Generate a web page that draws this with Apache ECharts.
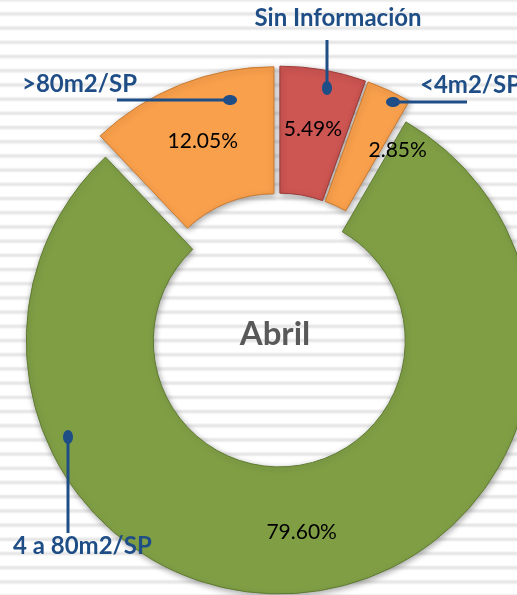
<!DOCTYPE html>
<html lang="es">
<head>
  <meta charset="UTF-8">
  <title>Abril</title>
  <style>
    html, body { margin: 0; padding: 0; background: #fff; }
    #chart {
      width: 517px;
      height: 595px;
      background: repeating-linear-gradient(to bottom,
        #e6e6e6 0px, #f4f4f4 1.2px, #ffffff 2px,
        #ffffff 11px, #f3f3f3 11.8px, #e6e6e6 12.8px, #e6e6e6 14.2px);
      background-position: 0 0.4px;
    }
  </style>
</head>
<body>
  <div id="chart"></div>
  <script src="https://cdn.jsdelivr.net/npm/echarts@6/dist/echarts.min.js"></script>
  <script>
    // datos
    var categories = ['Sin Información', '<4m2/SP', '4 a 80m2/SP', '>80m2/SP'];
    var values = [5.49, 2.85, 79.60, 12.05];
    var centerText = 'Abril';

    var colors = ['#cd5552', '#f9a04c', '#809f45', '#f9a04c'];
    var edgeColors = ['#9c3c39', '#c97a30', '#5e7a30', '#c97a30'];

    // posicion de los nombres, lineas guia y puntos (px)
    var nameLayout = [
      { x: 338, y: 18, align: 'center', line: [[327, 40], [327, 88]], dot: [5, 7] },
      { x: 420, y: 85, align: 'left', line: [[467, 102], [393, 102]], dot: [7, 5] },
      { x: 13, y: 546, align: 'left', line: [[68, 533], [68, 437]], dot: [5, 7] },
      { x: 22, y: 84, align: 'left', line: [[117, 100], [230, 100]], dot: [7, 5] }
    ];

    var center = [278, 330];
    var radius = [126, 253];
    var blue = '#1f4e87';

    var myChart = echarts.init(document.getElementById('chart'));

    var mainData = categories.map(function (name, i) {
      var st = {
        color: colors[i],
        borderColor: edgeColors[i],
        borderWidth: 1,
        shadowBlur: 6,
        shadowOffsetX: 1,
        shadowOffsetY: 2,
        shadowColor: 'rgba(0,0,0,0.35)'
      };
      return { name: name, value: values[i], selected: true, itemStyle: st, select: { itemStyle: st } };
    });

    var annotations = [];
    categories.forEach(function (name, i) {
      var l = nameLayout[i];
      annotations.push({
        type: 'line',
        z: 100,
        shape: { x1: l.line[0][0], y1: l.line[0][1], x2: l.line[1][0], y2: l.line[1][1] },
        style: { stroke: blue, lineWidth: 3 }
      });
      annotations.push({
        type: 'ellipse',
        z: 101,
        shape: { cx: l.line[1][0], cy: l.line[1][1], rx: l.dot[0], ry: l.dot[1] },
        style: { fill: blue }
      });
      annotations.push({
        type: 'text',
        z: 102,
        x: l.x,
        y: l.y,
        style: {
          text: name,
          fill: blue,
          font: 'bold 24px Lato',
          textAlign: l.align,
          textVerticalAlign: 'middle'
        }
      });
    });
    annotations.push({
      type: 'text',
      x: 275,
      y: 334,
      style: {
        text: centerText,
        fill: '#595959',
        font: 'bold 33px Lato',
        textAlign: 'center',
        textVerticalAlign: 'middle'
      }
    });

    var option = {
      animation: false,
      backgroundColor: 'transparent',
      series: [{
        type: 'pie',
        center: center,
        radius: radius,
        startAngle: 90,
        clockwise: true,
        selectedMode: 'multiple',
        selectedOffset: 11,
        silent: true,
        label: {
          show: true,
          position: 'inside',
          color: '#000',
          fontFamily: 'Lato',
          fontSize: 21,
          formatter: function (p) { return p.value.toFixed(2) + '%'; }
        },
        labelLayout: function (p) {
          if (p.dataIndex === 1) return { dx: 34, dy: 5 };
          return {};
        },
        labelLine: { show: false },
        data: mainData
      }],
      graphic: annotations
    };

    myChart.setOption(option);
  </script>
</body>
</html>
